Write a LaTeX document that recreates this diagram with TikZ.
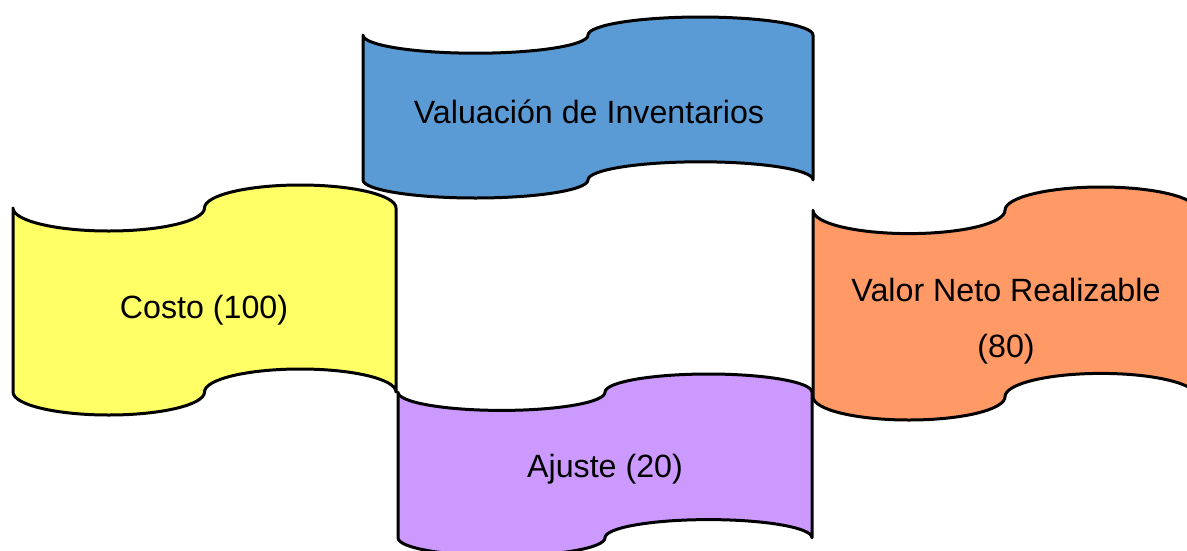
\documentclass[tikz,border=0pt]{standalone}
\usepackage{fontspec}
\setmainfont{Liberation Sans}
\definecolor{tapeblue}{RGB}{91,155,213}
\definecolor{tapeyellow}{RGB}{255,255,102}
\definecolor{tapeorange}{RGB}{255,153,102}
\definecolor{tapepurple}{RGB}{204,153,255}
\tikzset{
  tapebox/.style={draw=black,line width=3pt,line join=round},
  lbl/.style={inner sep=0pt,anchor=base,text=black,font=\fontsize{32.2}{38}\selectfont}
}
\newcommand\drawtape[5]{%
  \pgfmathsetmacro\tpT{-(#3)}%
  \pgfmathsetmacro\tph{(#5)/10}%
  \pgfmathsetmacro\tpB{-(#3)-(#5)}%
  \pgfmathsetmacro\tpr{(#4)/4}%
  \pgfmathsetmacro\tpR{(#2)+(#4)}%
  \pgfmathsetmacro\tpTop{\tpT-\tph}%
  \pgfmathsetmacro\tpBot{\tpB+\tph}%
  \draw[tapebox,fill=#1] (#2,\tpTop)
    arc[start angle=180,end angle=360,x radius=\tpr pt,y radius=\tph pt]
    arc[start angle=180,end angle=0,x radius=\tpr pt,y radius=\tph pt]
    -- (\tpR,\tpBot)
    arc[start angle=0,end angle=180,x radius=\tpr pt,y radius=\tph pt]
    arc[start angle=0,end angle=-180,x radius=\tpr pt,y radius=\tph pt]
    -- cycle;}
\begin{document}
\begin{tikzpicture}[x=1pt,y=1pt]
\useasboundingbox (0,0) rectangle (1187,-550);
\clip (0,0) rectangle (1187,-550);
% shapes
\drawtape{tapeblue}{363}{17}{450}{181}
\drawtape{tapeyellow}{13}{185}{383}{230}
\drawtape{tapeorange}{813}{187}{384}{233}
\drawtape{tapepurple}{398}{374}{414}{182}
% labels
\node[lbl] (val) at (589,-123) {Valuación de Inventarios};
\node[lbl] (costo) at (204,-318) {Costo (100)};
\node[lbl] (vnr) at (1006,-301) {Valor Neto Realizable};
\node[lbl] (vnrnum) at (1006,-357) {(80)};
\node[lbl] (ajuste) at (605,-477) {Ajuste (20)};
\end{tikzpicture}
\end{document}
